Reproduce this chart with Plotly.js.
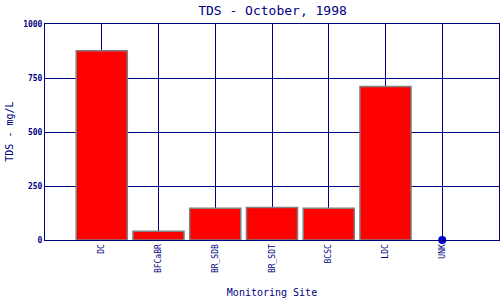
<!DOCTYPE html>
<html>
<head>
<meta charset="utf-8">
<script src="https://cdn.plot.ly/plotly-3.0.1.min.js"></script>
<style>html,body{margin:0;padding:0;background:#fff;}#chart{width:500px;height:300px;}</style>
</head>
<body>
<div id="chart"></div>
<script>
var sites = ["DC", "BFCaBR", "BR_SDB", "BR_SDT", "BCSC", "LDC", "UNK"];
var tds = [876, 40, 147, 151, 147, 711, 0];
var yTicks = [0, 250, 500, 750, 1000];

var navy = "#000080";
var mono = "DejaVu Sans Mono, Liberation Mono, monospace";

var barX = [], barY = [], ptX = [], ptY = [];
for (var i = 0; i < sites.length; i++) {
  if (tds[i] > 0) { barX.push(sites[i]); barY.push(tds[i]); }
  else { ptX.push(sites[i]); ptY.push(tds[i]); }
}

var traces = [
  {type: "bar", x: barX, y: barY, width: 0.9,
   marker: {color: "#ff0000", line: {color: "#808080", width: 1.5}},
   hoverinfo: "none"},
  {type: "scatter", mode: "markers", x: ptX, y: ptY, cliponaxis: false,
   marker: {color: "#0000cc", size: 8}, hoverinfo: "none"}
];

var layout = {
  width: 500, height: 300,
  margin: {l: 45, r: 1, t: 24, b: 60},
  paper_bgcolor: "#fff", plot_bgcolor: "#fff",
  showlegend: false,
  title: {text: "TDS - October, 1998", font: {family: mono, size: 13, color: navy},
          x: 0.545, xanchor: "center", y: 0.965, yanchor: "middle"},
  xaxis: {
    type: "category", categoryorder: "array", categoryarray: sites,
    range: [-1, 7],
    showgrid: true, gridcolor: navy, gridwidth: 1,
    showline: true, linecolor: navy, linewidth: 1, mirror: true,
    ticks: "", tickangle: -90,
    tickfont: {family: mono, size: 8, color: navy},
    title: {text: "Monitoring Site", font: {family: mono, size: 10, color: navy}, standoff: 16},
    fixedrange: true
  },
  yaxis: {
    range: [0, 1000], tickvals: yTicks, ticktext: yTicks.map(String),
    showgrid: true, gridcolor: navy, gridwidth: 1, zeroline: false,
    showline: true, linecolor: navy, linewidth: 1, mirror: true,
    ticks: "", tickfont: {family: mono, size: 8, color: navy, weight: "bold"},
    fixedrange: true
  },
  annotations: [{
    text: "TDS - mg/L", textangle: -90, showarrow: false,
    xref: "paper", yref: "paper", x: -0.08, y: 0.5,
    xanchor: "center", yanchor: "middle",
    font: {family: mono, size: 10, color: navy}
  }]
};

Plotly.newPlot("chart", traces, layout, {staticPlot: true, displayModeBar: false});
</script>
</body>
</html>
